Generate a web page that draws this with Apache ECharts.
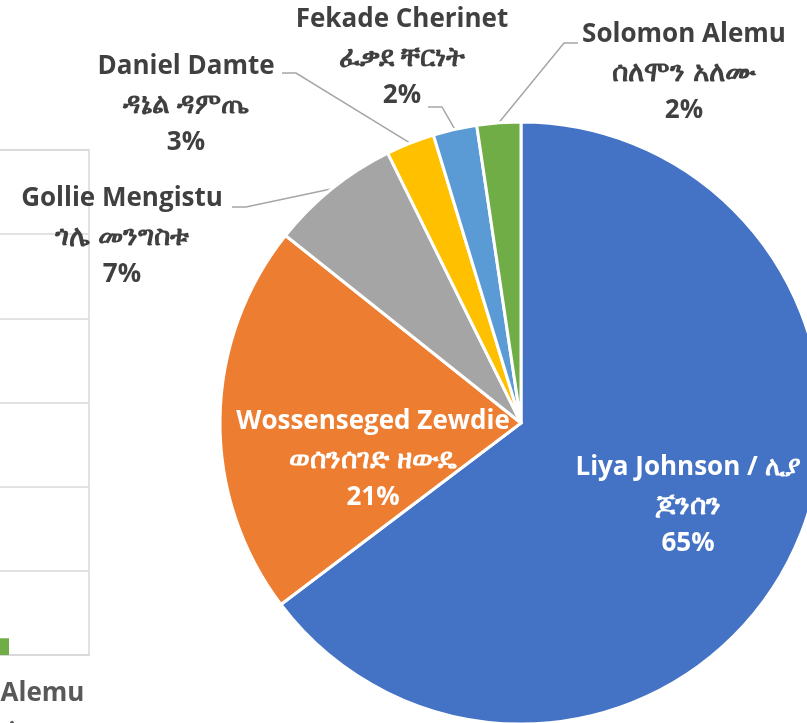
<!DOCTYPE html>
<html>
<head>
<meta charset="utf-8">
<script src="https://cdn.jsdelivr.net/npm/echarts@6/dist/echarts.min.js"></script>
<style>
  html, body { margin: 0; padding: 0; background: #fff; }
  #chart { width: 807px; height: 723px; }
</style>
</head>
<body>
<div id="chart"></div>
<script>
// pie data
const names = ['Liya Johnson / ሊያ', 'Wossenseged Zewdie', 'Gollie Mengistu', 'Daniel Damte', 'Fekade Cherinet', 'Solomon Alemu']
const amharic = ['ጆንሰን', 'ወሰንሰገድ ዘውዴ', 'ጎሌ መንግስቱ', 'ዳኔል ዳምጤ', 'ፈቃደ ቸርነት', 'ሰለሞን አለሙ']
const shares = [64.7, 21.0, 7.0, 2.6, 2.35, 2.35]
const colors = ['#4472C4', '#ED7D31', '#A5A5A5', '#FFC000', '#5B9BD5', '#70AD47']

// the cut-off bar chart on the left edge
const barCategories = ['Solomon Alemu\nሰለሞን አለሙ']
const barValues = [0.2]

const FONT = '"Open Sans", "Noto Sans", sans-serif'

// where Excel had the labels dragged to
const labelSpots = [
  { x: 688, y: 506 },
  { x: 373, y: 460 },
  { x: 122, y: 237, end: [232, 207] },
  { x: 186, y: 105, end: [282, 73] },
  { x: 402, y: 58, end: [428, 107] },
  { x: 684, y: 73, end: [578, 43] }
]

const textStyles = {
  en: { fontFamily: FONT, fontWeight: 'bold', fontSize: 26, lineHeight: 38 },
  am: { fontFamily: FONT, fontWeight: 'bold', fontSize: 28, lineHeight: 38 }
}

const chart = echarts.init(document.getElementById('chart'))

const pieData = shares.map((v, i) => {
  const inside = i < 2
  return {
    name: names[i],
    value: v,
    itemStyle: { color: colors[i] },
    label: inside ? { position: 'inside', color: '#fff' } : { position: 'outside', color: '#404040' },
    labelLine: { show: !inside }
  }
})

chart.setOption({
  animation: false,
  grid: {
    left: -124,
    right: 718,
    top: 150,
    bottom: 68,
    outerBoundsMode: 'none',
    containLabel: false,
    show: true,
    borderColor: '#d9d9d9',
    borderWidth: 1.5,
    backgroundColor: 'transparent'
  },
  xAxis: {
    type: 'category',
    data: barCategories,
    axisLine: { lineStyle: { color: '#d9d9d9', width: 1.5 } },
    axisTick: { show: false },
    axisLabel: {
      color: '#595959',
      fontFamily: FONT,
      fontWeight: 'bold',
      fontSize: 26,
      lineHeight: 36,
      margin: 21
    }
  },
  yAxis: {
    type: 'value',
    min: 0,
    max: 6,
    interval: 1,
    axisLabel: { show: false },
    axisLine: { show: false },
    splitLine: { lineStyle: { color: '#d9d9d9', width: 1.5 } }
  },
  series: [
    {
      type: 'bar',
      data: barValues,
      barWidth: 53,
      itemStyle: { color: '#70AD47' }
    },
    {
      type: 'pie',
      center: [521, 423],
      radius: 301,
      startAngle: 90,
      clockwise: true,
      percentPrecision: 0,
      avoidLabelOverlap: false,
      itemStyle: { borderColor: '#fff', borderWidth: 3 },
      label: {
        fontFamily: FONT,
        fontWeight: 'bold',
        fontSize: 26,
        lineHeight: 38,
        align: 'center',
        rich: textStyles,
        formatter: p => '{en|' + names[p.dataIndex] + '}\n{am|' + amharic[p.dataIndex] + '}\n{en|' + p.percent + '%}'
      },
      labelLine: {
        length: 10,
        length2: 10,
        lineStyle: { color: '#a6a6a6', width: 1.5 }
      },
      labelLayout: params => {
        const s = labelSpots[params.dataIndex]
        const out = { x: s.x, y: s.y, align: 'center', verticalAlign: 'middle' }
        if (s.end && params.labelLinePoints) {
          const p = params.labelLinePoints
          const dir = s.end[0] < p[0][0] ? 1 : -1
          out.labelLinePoints = [p[0], [s.end[0] + dir * 14, s.end[1]], s.end]
        }
        return out
      },
      data: pieData
    }
  ]
})
</script>
</body>
</html>
